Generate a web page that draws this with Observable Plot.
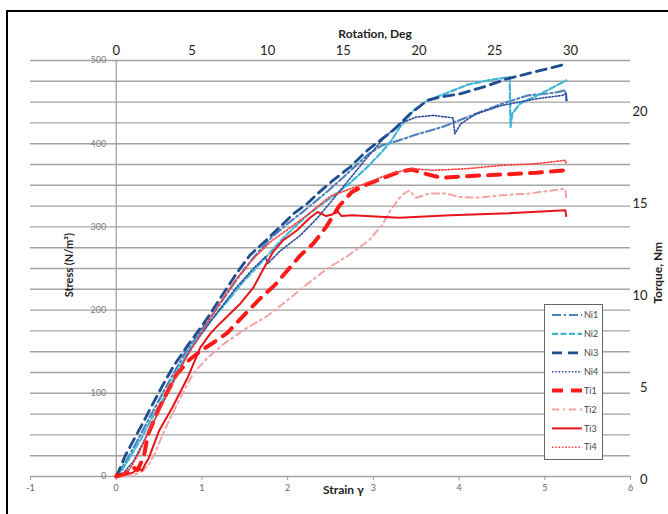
<!DOCTYPE html>
<html><head><meta charset="utf-8">
<script src="https://cdn.jsdelivr.net/npm/d3@7"></script>
<script src="https://cdn.jsdelivr.net/npm/@observablehq/plot@0.6"></script>
<style>
html,body{margin:0;padding:0;background:#fff;overflow:hidden;width:668px;height:514px;}
#wrap{position:relative;width:668px;height:514px;overflow:hidden;}
#frame{position:absolute;left:6px;top:10px;width:800px;height:700px;border:2.5px solid #000;pointer-events:none;}
#wrap svg{position:absolute;left:0;top:0;}
</style></head><body><div id="wrap"><div id="frame"></div></div>
<script>
// ---- data (strain γ, stress N/m²) ----
const ni1 = [[0,0],[0.1,16],[0.2,34],[0.4,73],[0.6,111],[0.8,148],[1.0,177],[1.2,206],[1.4,236],[1.6,263],[1.8,286],[2.0,304],[2.2,320],[2.4,337],[2.6,355],[2.8,374],[2.95,388],[3.1,398],[3.3,404],[3.5,411],[3.8,420],[4.1,432],[4.5,448],[4.8,458],[5.1,461],[5.24,464],[5.25,452]];
const ni2 = [[0,0],[0.05,5],[0.16,23],[0.3,47],[0.42,71],[0.54,92],[0.65,114],[0.77,137],[0.9,160],[1.1,187],[1.3,211],[1.48,234],[1.68,256],[1.88,279],[2.07,299],[2.23,314],[2.38,326],[2.53,337],[2.73,353],[2.93,372],[3.08,388],[3.2,402],[3.31,420],[3.47,440],[3.63,452],[3.86,461],[4.1,471],[4.33,476],[4.59,480],[4.6,420],[4.62,436],[4.71,448],[4.95,460],[5.25,476]];
const ni3 = [[0,0],[0.05,11],[0.1,24],[0.22,47],[0.32,66],[0.43,88],[0.55,111],[0.67,133],[0.83,157],[0.98,178],[1.1,196],[1.25,220],[1.41,245],[1.56,266],[1.76,285],[1.91,300],[2.07,316],[2.23,328],[2.35,340],[2.53,356],[2.73,372],[2.93,392],[3.08,404],[3.23,416],[3.43,436],[3.63,452],[3.78,456],[4.01,460],[4.28,468],[4.56,478],[4.87,486],[5.26,496]];
const ni4 = [[0.05,0],[0.2,18],[0.32,42],[0.5,79],[0.7,121],[0.85,150],[1.0,172],[1.2,200],[1.4,227],[1.6,250],[1.74,264],[1.77,256],[1.9,270],[2.15,290],[2.35,311],[2.6,342],[2.9,380],[3.1,404],[3.3,424],[3.5,432],[3.7,434],[3.93,431],[3.95,412],[4.02,424],[4.2,436],[4.5,446],[4.9,454],[5.2,458],[5.25,460],[5.26,450]];
const ti1 = [[0,0],[0.1,3],[0.19,11],[0.25,8],[0.32,23],[0.37,50],[0.5,82],[0.7,122],[0.85,140],[1.0,152],[1.15,162],[1.3,173],[1.5,195],[1.68,214],[1.85,230],[2.0,248],[2.15,266],[2.3,280],[2.45,300],[2.6,325],[2.75,342],[2.9,350],[3.1,358],[3.3,366],[3.45,369],[3.6,364],[3.8,359],[4.1,361],[4.5,363],[4.9,365],[5.25,368]];
const ti2 = [[0.1,0],[0.2,2],[0.3,6],[0.38,14],[0.45,28],[0.52,45],[0.62,68],[0.75,95],[0.9,124],[1.05,141],[1.25,159],[1.5,177],[1.75,192],[2.0,212],[2.2,229],[2.45,249],[2.7,265],[2.95,284],[3.1,302],[3.2,320],[3.33,338],[3.42,344],[3.5,335],[3.65,340],[3.85,340],[4.0,336],[4.2,335],[4.5,338],[4.8,340],[5.1,344],[5.24,346],[5.25,335]];
const ti3 = [[0,3],[0.1,2],[0.2,5],[0.26,10],[0.3,7],[0.34,15],[0.38,22],[0.43,36],[0.5,55],[0.65,82],[0.83,118],[0.98,155],[1.1,172],[1.21,184],[1.45,208],[1.6,227],[1.72,250],[1.83,270],[1.95,284],[2.11,296],[2.26,311],[2.35,318],[2.45,313],[2.52,315],[2.58,319],[2.63,313],[2.75,314],[3.3,311],[3.9,314],[4.5,316],[5.24,320],[5.25,313]];
const ti4 = [[0.05,0],[0.15,8],[0.25,25],[0.4,58],[0.6,100],[0.8,140],[1.0,174],[1.2,207],[1.4,237],[1.6,262],[1.8,282],[2.0,297],[2.2,312],[2.5,337],[2.9,352],[3.2,364],[3.45,370],[3.7,368],[4.1,370],[4.5,374],[4.9,376],[5.24,380],[5.25,377]];

const seriesNames = ["Ni1","Ni2","Ni3","Ni4","Ti1","Ti2","Ti3","Ti4"];
const strainTicks = [-1,0,1,2,3,4,5,6];
const stressTicks = [0,100,200,300,400,500];
const gridStress = d3.range(0, 501, 25);
const rotTicks = [0,5,10,15,20,25,30];
const torqueTicks = [0,5,10,15,20];

// secondary axis conversions
const STRAIN_AT_30DEG = 5.3;
const STRAIN_PER_DEG = STRAIN_AT_30DEG / 30;
const STRESS_PER_NM = 22.1;

// ---- styles ----
const styles = {
  Ni1: {stroke:"#4f81bd", width:2.2, dash:"9,3,2,3"},
  Ni2: {stroke:"#3fb6d3", width:2.2, dash:"6,2.5"},
  Ni3: {stroke:"#1f4e8f", width:2.8, dash:"10,6"},
  Ni4: {stroke:"#2a4a9a", width:1.6, dash:"1.5,1.8"},
  Ti1: {stroke:"#ff1a1a", width:4, dash:"12,9"},
  Ti2: {stroke:"#f4a3a3", width:2, dash:"7,4,2,4"},
  Ti3: {stroke:"#e8141a", width:2, dash:null},
  Ti4: {stroke:"#ff3b3b", width:1.6, dash:"1.5,1.8"}
};
const dataByName = {Ni1:ni1, Ni2:ni2, Ni3:ni3, Ni4:ni4, Ti1:ti1, Ti2:ti2, Ti3:ti3, Ti4:ti4};

const lineMarks = seriesNames.map(n => {
  const s = styles[n];
  const o = {x: d => d[0], y: d => d[1], stroke: s.stroke, strokeWidth: s.width};
  if (s.dash) o.strokeDasharray = s.dash;
  return Plot.line(dataByName[n], o);
});

const font = "Lato, 'Open Sans', sans-serif";
const fmtInt = d => (d < 0 ? "-" : "") + Math.abs(Math.round(d));

const chart = Plot.plot({
  width: 668, height: 514,
  marginLeft: 30, marginRight: 38, marginTop: 60, marginBottom: 38,
  x: {domain: [-1, 6]},
  y: {domain: [0, 500], axis: null},
  style: {fontFamily: font, fontSize: "9px", background: "transparent", overflow: "visible"},
  marks: [
    Plot.ruleY(gridStress, {x1: -1, x2: 6, stroke: "#a3a3a3", strokeWidth: 1.4}),
    Plot.ruleX([0], {y1: 0, y2: 500, stroke: "#9a9a9a", strokeWidth: 1.2}),
    Plot.axisX({ticks: strainTicks, tickFormat: fmtInt, tickSize: 4, stroke: "#999", fill: "#666", fontSize: 9, label: null, tickPadding: 4}),
    Plot.axisX({anchor: "top", ticks: rotTicks.map(r => r * STRAIN_PER_DEG), tickFormat: d => fmtInt(d / STRAIN_PER_DEG), tickSize: 0, tickPadding: 6, fontSize: 13, fill: "#222", label: null}),
    Plot.text(stressTicks, {x: 0, y: d => d, text: d => String(d), dx: -10, textAnchor: "end", fill: "#808080", fontSize: 9}),
    Plot.text(torqueTicks, {y: t => t * STRESS_PER_NM, text: t => String(t), frameAnchor: "right", dx: 17, dy: 3, textAnchor: "end", fontSize: 13, fill: "#222"}),
    Plot.text(["Strain γ"], {x: 2.65, frameAnchor: "bottom", dy: 17, fontWeight: "bold", fontSize: 12, fill: "#222"}),
    Plot.text(["Rotation, Deg"], {x: 3.02, frameAnchor: "top", dy: -31, fontWeight: "bold", fontSize: 12, fill: "#222"}),
    Plot.text(["Stress (N/m²)"], {x: -0.55, y: 254, rotate: -90, fontWeight: "bold", fontSize: 11, fill: "#222"}),
    Plot.text(["Torque, Nm"], {y: 282, frameAnchor: "right", dx: 28, rotate: -90, fontWeight: "bold", fontSize: 12, fill: "#222"}),
    ...lineMarks
  ]
});
document.getElementById("wrap").appendChild(chart);

// ---- legend overlay ----
const leg = d3.create("svg").attr("width", 668).attr("height", 514)
  .style("position", "absolute").style("left", "0px").style("top", "0px");
leg.append("rect").attr("x", 544.5).attr("y", 304.5).attr("width", 58).attr("height", 155)
  .attr("fill", "#fff").attr("stroke", "#666").attr("stroke-width", 1);
seriesNames.forEach((n, i) => {
  const s = styles[n];
  const y = 315 + i * 18.9;
  const ln = leg.append("line").attr("x1", 552).attr("x2", 582).attr("y1", y).attr("y2", y)
    .attr("stroke", s.stroke).attr("stroke-width", s.width);
  if (s.dash) ln.attr("stroke-dasharray", n === "Ti1" ? "11,8" : s.dash);
  leg.append("text").attr("x", 584).attr("y", y).attr("dy", "0.35em")
    .attr("font-family", font).attr("font-size", 9).attr("fill", "#444").text(n);
});
document.getElementById("wrap").appendChild(leg.node());
</script>
</body></html>
